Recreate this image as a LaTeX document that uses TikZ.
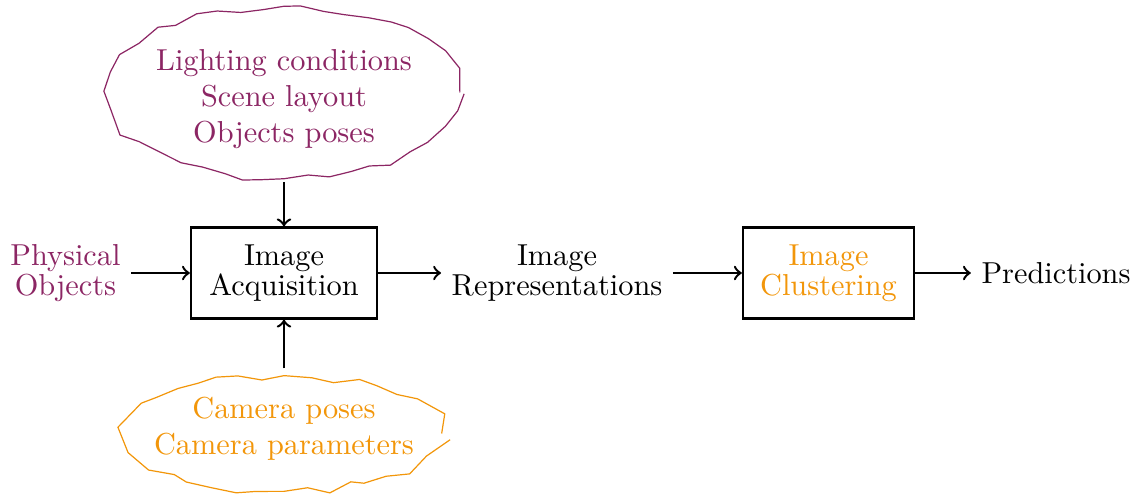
\documentclass[tikz,border=0pt]{standalone}
\usetikzlibrary{shapes.geometric,decorations.pathmorphing}
\definecolor{cpurple}{RGB}{140,38,100}
\definecolor{corange}{RGB}{242,150,10}
\begin{document}
\begin{tikzpicture}[x=0.3298pt,y=-0.3298pt,>=to,
  box/.style={draw, line width=0.8pt, minimum height=30pt, align=center},
  lbl/.style={align=center},
  arr/.style={->, line width=0.8pt},
  cloud/.style={ellipse, draw, line width=0.4pt, inner sep=0pt,
    decorate, decoration={random steps, segment length=7pt, amplitude=1.5pt}}]
\pgfmathsetseed{11}
\useasboundingbox (0,0) rectangle (1141,496);

% clouds
\node[cloud, cpurple, minimum width=116pt, minimum height=56.5pt] (cloudA) at (284,92.5) {};
\node[lbl, text=cpurple] (condA) at (284,99) {Lighting conditions\\Scene layout\\Objects poses};
\node[cloud, corange, minimum width=104pt, minimum height=37.5pt] (cloudB) at (284,433.5) {};
\node[lbl, text=corange] (condB) at (284,429) {Camera poses\\Camera parameters};

% main chain
\node[lbl, text=cpurple] (phys) at (65.5,273) {Physical\\[-2.1pt]Objects};
\node[box, minimum width=61.3pt] (acq) at (284,273) {Image\\[-2.1pt]Acquisition};
\node[lbl] (rep) at (557,273) {Image\\[-2.1pt]Representations};
\node[box, minimum width=56.4pt, text=corange] (clu) at (828.5,273) {Image\\[-2.1pt]Clustering};
\node[lbl] (pred) at (1056,273) {Predictions};

% connectors
\draw[arr] (phys) -- (acq);
\draw[arr] (acq) -- (rep);
\draw[arr] (rep) -- (clu);
\draw[arr] (clu) -- (pred);
\draw[arr, shorten <=1pt] (cloudA.south) -- (acq.north);
\draw[arr, shorten <=2.5pt] (cloudB.north) -- (acq.south);
\end{tikzpicture}
\end{document}
